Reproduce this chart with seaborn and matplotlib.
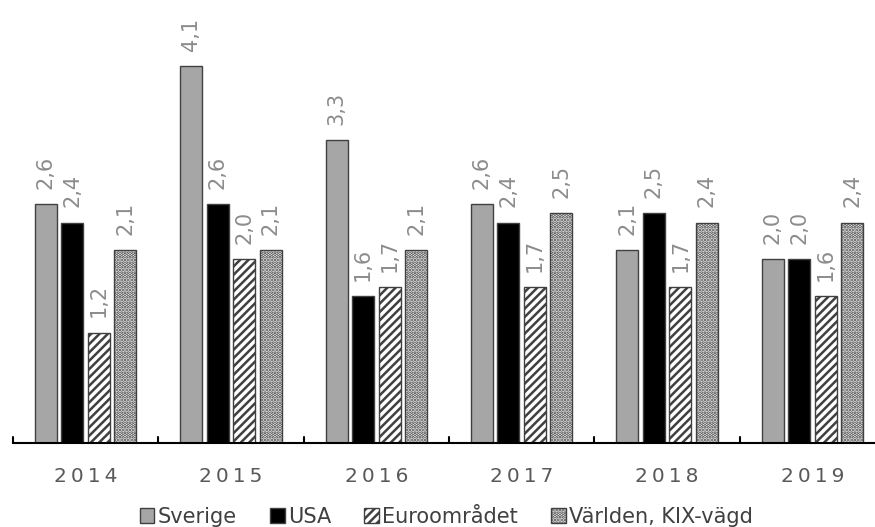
import numpy as np
import pandas as pd
import matplotlib.pyplot as plt
import seaborn as sns
from matplotlib.patches import Patch

# ---------------------------------
# Data
# ---------------------------------
YEARS = ['2014', '2015', '2016', '2017', '2018', '2019']
SERIES = ['Sverige', 'USA', 'Euroområdet', 'Världen, KIX-vägd']
sverige = [2.6, 4.1, 3.3, 2.6, 2.1, 2.0]
usa = [2.4, 2.6, 1.6, 2.4, 2.5, 2.0]
euro = [1.2, 2.0, 1.7, 1.7, 1.7, 1.6]
varlden = [2.1, 2.1, 2.1, 2.5, 2.4, 2.4]

FACE = ['#a6a6a6', '#000000', '#ffffff', '#ffffff']
HATCH = [None, None, '////', '.....']
LABEL_GRAY = '#8c8c8c'
TEXT_GRAY = '#595959'

df = pd.DataFrame({
    'år': YEARS * 4,
    'serie': np.repeat(SERIES, len(YEARS)),
    'värde': sverige + usa + euro + varlden,
})


def spaced(s):
    # the original uses letter spacing on the year labels
    return '\u2009'.join(s)


sns.set_theme(style='white')
plt.rcParams['font.family'] = ['DejaVu Sans']
plt.rcParams['hatch.linewidth'] = 1.8

fig = plt.figure(figsize=(8.75, 5.27), dpi=100)
ax = fig.add_axes([13 / 875, 84 / 527, 872 / 875, 441 / 527])

sns.barplot(data=df, x='år', y='värde', hue='serie', hue_order=SERIES,
            palette=FACE, width=0.73, gap=0.17, legend=False,
            edgecolor='#404040', linewidth=1, saturation=1, ax=ax)

for cont, fc, h in zip(ax.containers, FACE, HATCH):
    for p in cont:
        p.set_facecolor(fc)
        p.set_edgecolor('#404040')
        if h:
            p.set_hatch(h)
    vals = [p.get_height() for p in cont]
    ax.bar_label(cont, labels=[f'{v:.1f}'.replace('.', ',') for v in vals],
                 rotation=90, padding=11, color=LABEL_GRAY, fontsize=15)

ax.set_ylim(0, 4.8)
ax.set_xlim(-0.5, 5.5)
ax.set_xlabel('')
ax.set_ylabel('')
ax.set_yticks([])
ax.set_xticks(range(len(YEARS)))
ax.set_xticklabels([spaced(y) for y in YEARS], fontsize=14.5, color=TEXT_GRAY)
ax.tick_params(axis='x', length=0, pad=17)
for s in ['top', 'right', 'left']:
    ax.spines[s].set_visible(False)
ax.spines['bottom'].set_color('black')
ax.spines['bottom'].set_linewidth(1.5)

# small boundary ticks between year groups
for b in np.arange(-0.5, 6, 1.0):
    ax.plot([b, b], [0, 0.06], color='black', lw=1.5, clip_on=False)

handles = [Patch(facecolor=fc, edgecolor='#404040', hatch=h, label=s)
           for s, fc, h in zip(SERIES, FACE, HATCH)]
fig.legend(handles=handles, loc='lower center', bbox_to_anchor=(0.51, -0.035),
           ncol=4, frameon=False, fontsize=15, handlelength=0.7,
           handleheight=0.7, handletextpad=0.15, columnspacing=1.6,
           labelcolor='#404040')

fig.savefig('out.png', dpi=100)
